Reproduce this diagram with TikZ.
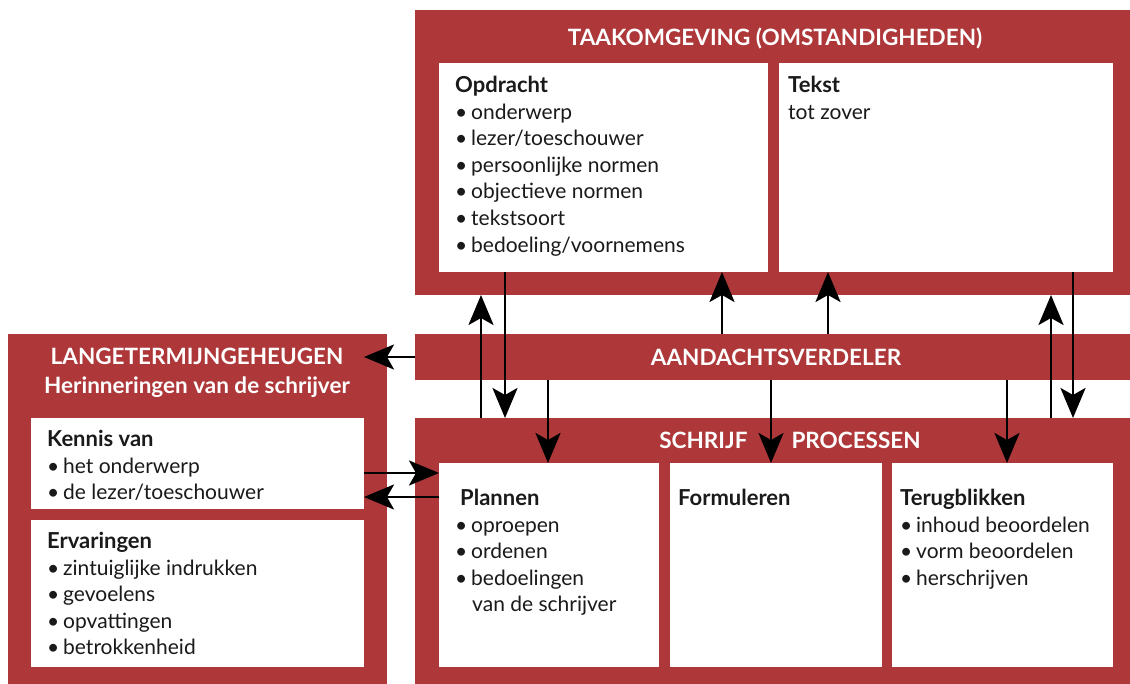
\documentclass[tikz,border=0pt]{standalone}
\usepackage{fontspec}
\setmainfont{Lato}
\usepackage{xcolor}
\usepackage{tikz}
\usetikzlibrary{arrows.meta,positioning,calc}
\definecolor{boxred}{RGB}{174,55,57}
\definecolor{inktext}{RGB}{26,26,26}
\newcommand{\itm}{\makebox[16pt][l]{\textbullet}}
\newcommand{\hd}[1]{{\fontsize{22}{26.6}\selectfont\bfseries #1}}

\begin{document}
\begin{tikzpicture}[x=1pt, y=-1pt,
  redbox/.style={fill=boxred, anchor=north west, inner sep=0pt, outer sep=0pt},
  whitebox/.style={fill=white, anchor=north west, inner sep=0pt, outer sep=0pt},
  title/.style={text=white, align=center, font=\fontsize{22.5}{29}\selectfont\bfseries},
  itemtext/.style={anchor=north west, align=left, text=inktext, inner sep=0pt,
                   font=\fontsize{21}{26.6}\selectfont},
  arr/.style={-{Stealth[length=30pt,width=25pt,inset=7pt]}, line width=2.8pt, black},
]
\useasboundingbox (0,0) rectangle (1130,684);

% red frames
\node[redbox, minimum width=715pt, minimum height=285pt] (taak) at (415,10) {};
\node[redbox, minimum width=715pt, minimum height=46pt] (aand) at (415,334) {};
\node[redbox, minimum width=715pt, minimum height=266pt] (schr) at (415,418) {};
\node[redbox, minimum width=379pt, minimum height=350pt] (lang) at (8,334) {};

% white panels
\node[whitebox, minimum width=329pt, minimum height=209pt] (opd) at (439,63) {};
\node[whitebox, minimum width=334pt, minimum height=209pt] (tekst) at (779,63) {};
\node[whitebox, minimum width=220pt, minimum height=204pt] (plan) at (439,463) {};
\node[whitebox, minimum width=212pt, minimum height=204pt] (form) at (670,463) {};
\node[whitebox, minimum width=221pt, minimum height=204pt] (terug) at (892,463) {};
\node[whitebox, minimum width=333pt, minimum height=91pt] (kennis) at (31,418) {};
\node[whitebox, minimum width=333pt, minimum height=147pt] (erv) at (31,520) {};

% titles
\node[title] (taaktitle) at (775,38) {TAAKOMGEVING (OMSTANDIGHEDEN)};
\node[title] (aandtitle) at (776,357) {AANDACHTSVERDELER};
\node[title] (schrtitle) at (790,440) {SCHRIJF\hspace{44pt}PROCESSEN};
\node[title] (langtitle) at (197,373) {LANGETERMIJNGEHEUGEN\\Herinneringen van de schrijver};

% panel texts
\node[itemtext] (opdtxt) at ([xshift=16pt,yshift=-13pt]opd.north west)
  {\hd{Opdracht}\\ \itm onderwerp\\ \itm lezer/toeschouwer\\ \itm persoonlijke normen\\
   \itm objectieve normen\\ \itm tekstsoort\\ \itm bedoeling/voornemens};
\node[itemtext] (teksttxt) at ([xshift=9pt,yshift=-13pt]tekst.north west)
  {\hd{Tekst}\\ tot zover};
\node[itemtext] (plantxt) at ([xshift=16pt,yshift=-26pt]plan.north west)
  {\hspace{5pt}\hd{Plannen}\\ \itm oproepen\\ \itm ordenen\\ \itm bedoelingen\\ \hspace{17pt}van de schrijver};
\node[itemtext] (formtxt) at ([xshift=8pt,yshift=-26pt]form.north west)
  {\hd{Formuleren}};
\node[itemtext] (terugtxt) at ([xshift=8pt,yshift=-26pt]terug.north west)
  {\hd{Terugblikken}\\ \itm inhoud beoordelen\\ \itm vorm beoordelen\\ \itm herschrijven};
\node[itemtext] (kennistxt) at ([xshift=16pt,yshift=-12pt]kennis.north west)
  {\hd{Kennis van}\\ \itm het onderwerp\\ \itm de lezer/toeschouwer};
\node[itemtext] (ervtxt) at ([xshift=16pt,yshift=-12pt]erv.north west)
  {\hd{Ervaringen}\\ \itm zintuiglijke indrukken\\ \itm gevoelens\\ \itm opvattingen\\ \itm betrokkenheid};

% connectors
\draw[arr] (aand.west) -- (aand.west -| kennis.east);
\draw[arr] (kennis.east |- 0,473) -- (plan.west |- 0,473);
\draw[arr] (plan.west |- 0,497) -- (kennis.east |- 0,497);
\draw[arr] (schr.north -| 481,0) -- (taak.south -| 481,0);
\draw[arr] (opd.south -| 505,0) -- (schr.north -| 505,0);
\draw[arr] (aand.north -| 722,0) -- (opd.south -| 722,0);
\draw[arr] (aand.north -| 828,0) -- (tekst.south -| 828,0);
\draw[arr] (schr.north -| 1051,0) -- (taak.south -| 1051,0);
\draw[arr] (tekst.south -| 1073,0) -- (schr.north -| 1073,0);
\draw[arr] (aand.south -| 548,0) -- (plan.north -| 548,0);
\draw[arr] (aand.south -| 771,0) -- (form.north -| 771,0);
\draw[arr] (aand.south -| 1007,0) -- (terug.north -| 1007,0);
\end{tikzpicture}
\end{document}
